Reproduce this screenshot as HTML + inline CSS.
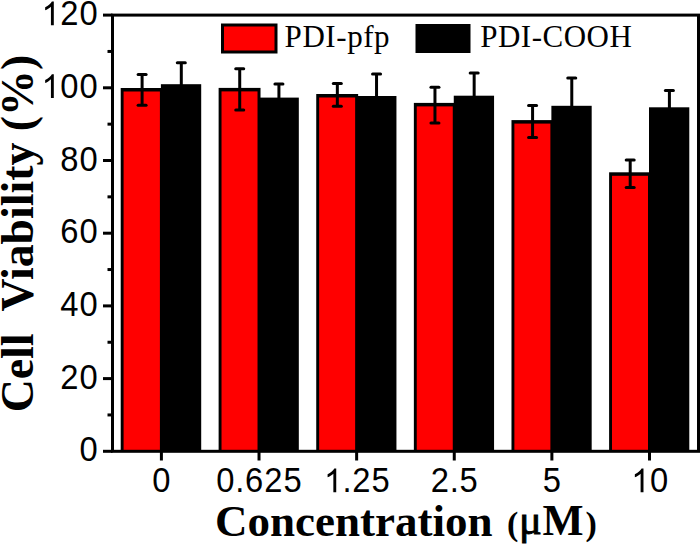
<!DOCTYPE html>
<html><head><meta charset="utf-8"><style>
html,body{margin:0;padding:0;background:#fff;}
svg{display:block;}
text,path{fill:#000;}
.s{font-family:"Liberation Sans",sans-serif;}
.r{font-family:"Liberation Serif",serif;}
</style></head><body>
<svg width="700" height="545" viewBox="0 0 700 545">
<rect width="700" height="545" fill="#fff"/>
<rect x="120.70" y="88.00" width="42.20" height="363.30" fill="#000"/>
<rect x="123.60" y="91.50" width="36.30" height="359.80" fill="#f00"/>
<rect x="160.90" y="84.20" width="40.3" height="367.10" fill="#000"/>
<rect x="218.62" y="87.90" width="41.90" height="363.40" fill="#000"/>
<rect x="221.52" y="91.40" width="36.00" height="359.90" fill="#f00"/>
<rect x="258.52" y="97.60" width="40.3" height="353.70" fill="#000"/>
<rect x="316.24" y="94.00" width="41.90" height="357.30" fill="#000"/>
<rect x="319.14" y="97.50" width="36.00" height="353.80" fill="#f00"/>
<rect x="356.14" y="96.00" width="40.3" height="355.30" fill="#000"/>
<rect x="413.86" y="102.90" width="41.90" height="348.40" fill="#000"/>
<rect x="416.76" y="106.40" width="36.00" height="344.90" fill="#f00"/>
<rect x="453.76" y="95.70" width="40.3" height="355.60" fill="#000"/>
<rect x="511.48" y="120.10" width="41.90" height="331.20" fill="#000"/>
<rect x="514.38" y="123.60" width="36.00" height="327.70" fill="#f00"/>
<rect x="551.38" y="105.80" width="40.3" height="345.50" fill="#000"/>
<rect x="609.10" y="172.30" width="41.90" height="279.00" fill="#000"/>
<rect x="612.00" y="175.80" width="36.00" height="275.50" fill="#f00"/>
<rect x="649.00" y="107.30" width="40.3" height="344.00" fill="#000"/>
<line x1="142.10" y1="74.60" x2="142.10" y2="105.20" stroke="#000" stroke-width="3"/>
<line x1="138.10" y1="74.60" x2="146.10" y2="74.60" stroke="#000" stroke-width="3" stroke-linecap="round"/>
<line x1="138.10" y1="105.20" x2="146.10" y2="105.20" stroke="#000" stroke-width="3" stroke-linecap="round"/>
<line x1="181.30" y1="62.80" x2="181.30" y2="108.60" stroke="#000" stroke-width="3"/>
<line x1="177.30" y1="62.80" x2="185.30" y2="62.80" stroke="#000" stroke-width="3" stroke-linecap="round"/>
<line x1="177.30" y1="108.60" x2="185.30" y2="108.60" stroke="#000" stroke-width="3" stroke-linecap="round"/>
<line x1="239.72" y1="68.80" x2="239.72" y2="110.00" stroke="#000" stroke-width="3"/>
<line x1="235.72" y1="68.80" x2="243.72" y2="68.80" stroke="#000" stroke-width="3" stroke-linecap="round"/>
<line x1="235.72" y1="110.00" x2="243.72" y2="110.00" stroke="#000" stroke-width="3" stroke-linecap="round"/>
<line x1="278.92" y1="83.90" x2="278.92" y2="114.30" stroke="#000" stroke-width="3"/>
<line x1="274.92" y1="83.90" x2="282.92" y2="83.90" stroke="#000" stroke-width="3" stroke-linecap="round"/>
<line x1="274.92" y1="114.30" x2="282.92" y2="114.30" stroke="#000" stroke-width="3" stroke-linecap="round"/>
<line x1="337.34" y1="83.60" x2="337.34" y2="106.20" stroke="#000" stroke-width="3"/>
<line x1="333.34" y1="83.60" x2="341.34" y2="83.60" stroke="#000" stroke-width="3" stroke-linecap="round"/>
<line x1="333.34" y1="106.20" x2="341.34" y2="106.20" stroke="#000" stroke-width="3" stroke-linecap="round"/>
<line x1="376.54" y1="74.10" x2="376.54" y2="120.90" stroke="#000" stroke-width="3"/>
<line x1="372.54" y1="74.10" x2="380.54" y2="74.10" stroke="#000" stroke-width="3" stroke-linecap="round"/>
<line x1="372.54" y1="120.90" x2="380.54" y2="120.90" stroke="#000" stroke-width="3" stroke-linecap="round"/>
<line x1="434.96" y1="87.20" x2="434.96" y2="122.90" stroke="#000" stroke-width="3"/>
<line x1="430.96" y1="87.20" x2="438.96" y2="87.20" stroke="#000" stroke-width="3" stroke-linecap="round"/>
<line x1="430.96" y1="122.90" x2="438.96" y2="122.90" stroke="#000" stroke-width="3" stroke-linecap="round"/>
<line x1="474.16" y1="72.90" x2="474.16" y2="121.50" stroke="#000" stroke-width="3"/>
<line x1="470.16" y1="72.90" x2="478.16" y2="72.90" stroke="#000" stroke-width="3" stroke-linecap="round"/>
<line x1="470.16" y1="121.50" x2="478.16" y2="121.50" stroke="#000" stroke-width="3" stroke-linecap="round"/>
<line x1="532.58" y1="105.40" x2="532.58" y2="137.50" stroke="#000" stroke-width="3"/>
<line x1="528.58" y1="105.40" x2="536.58" y2="105.40" stroke="#000" stroke-width="3" stroke-linecap="round"/>
<line x1="528.58" y1="137.50" x2="536.58" y2="137.50" stroke="#000" stroke-width="3" stroke-linecap="round"/>
<line x1="571.78" y1="78.10" x2="571.78" y2="136.50" stroke="#000" stroke-width="3"/>
<line x1="567.78" y1="78.10" x2="575.78" y2="78.10" stroke="#000" stroke-width="3" stroke-linecap="round"/>
<line x1="567.78" y1="136.50" x2="575.78" y2="136.50" stroke="#000" stroke-width="3" stroke-linecap="round"/>
<line x1="630.20" y1="160.10" x2="630.20" y2="187.40" stroke="#000" stroke-width="3"/>
<line x1="626.20" y1="160.10" x2="634.20" y2="160.10" stroke="#000" stroke-width="3" stroke-linecap="round"/>
<line x1="626.20" y1="187.40" x2="634.20" y2="187.40" stroke="#000" stroke-width="3" stroke-linecap="round"/>
<line x1="669.40" y1="90.60" x2="669.40" y2="127.00" stroke="#000" stroke-width="3"/>
<line x1="665.40" y1="90.60" x2="673.40" y2="90.60" stroke="#000" stroke-width="3" stroke-linecap="round"/>
<line x1="665.40" y1="127.00" x2="673.40" y2="127.00" stroke="#000" stroke-width="3" stroke-linecap="round"/>
<rect x="112.5" y="15.1" width="586.0" height="436.2" fill="none" stroke="#000" stroke-width="3"/>
<line x1="103" y1="451.30" x2="112.5" y2="451.30" stroke="#000" stroke-width="3"/>
<line x1="107.5" y1="414.95" x2="112.5" y2="414.95" stroke="#000" stroke-width="3"/>
<line x1="103" y1="378.60" x2="112.5" y2="378.60" stroke="#000" stroke-width="3"/>
<line x1="107.5" y1="342.25" x2="112.5" y2="342.25" stroke="#000" stroke-width="3"/>
<line x1="103" y1="305.90" x2="112.5" y2="305.90" stroke="#000" stroke-width="3"/>
<line x1="107.5" y1="269.55" x2="112.5" y2="269.55" stroke="#000" stroke-width="3"/>
<line x1="103" y1="233.20" x2="112.5" y2="233.20" stroke="#000" stroke-width="3"/>
<line x1="107.5" y1="196.85" x2="112.5" y2="196.85" stroke="#000" stroke-width="3"/>
<line x1="103" y1="160.50" x2="112.5" y2="160.50" stroke="#000" stroke-width="3"/>
<line x1="107.5" y1="124.15" x2="112.5" y2="124.15" stroke="#000" stroke-width="3"/>
<line x1="103" y1="87.80" x2="112.5" y2="87.80" stroke="#000" stroke-width="3"/>
<line x1="107.5" y1="51.45" x2="112.5" y2="51.45" stroke="#000" stroke-width="3"/>
<line x1="103" y1="15.10" x2="112.5" y2="15.10" stroke="#000" stroke-width="3"/>
<line x1="161.40" y1="451.3" x2="161.40" y2="460.5" stroke="#000" stroke-width="3"/>
<line x1="259.02" y1="451.3" x2="259.02" y2="460.5" stroke="#000" stroke-width="3"/>
<line x1="356.64" y1="451.3" x2="356.64" y2="460.5" stroke="#000" stroke-width="3"/>
<line x1="454.26" y1="451.3" x2="454.26" y2="460.5" stroke="#000" stroke-width="3"/>
<line x1="551.88" y1="451.3" x2="551.88" y2="460.5" stroke="#000" stroke-width="3"/>
<line x1="649.50" y1="451.3" x2="649.50" y2="460.5" stroke="#000" stroke-width="3"/>
<text transform="translate(88.61,461.40) scale(0.95,1)" text-anchor="middle" class="s" font-size="34.5">0</text>
<text transform="translate(69.42,388.70) scale(0.95,1)" text-anchor="middle" class="s" font-size="34.5">2</text>
<text transform="translate(88.61,388.70) scale(0.95,1)" text-anchor="middle" class="s" font-size="34.5">0</text>
<text transform="translate(69.42,316.00) scale(0.95,1)" text-anchor="middle" class="s" font-size="34.5">4</text>
<text transform="translate(88.61,316.00) scale(0.95,1)" text-anchor="middle" class="s" font-size="34.5">0</text>
<text transform="translate(69.42,243.30) scale(0.95,1)" text-anchor="middle" class="s" font-size="34.5">6</text>
<text transform="translate(88.61,243.30) scale(0.95,1)" text-anchor="middle" class="s" font-size="34.5">0</text>
<text transform="translate(69.42,170.60) scale(0.95,1)" text-anchor="middle" class="s" font-size="34.5">8</text>
<text transform="translate(88.61,170.60) scale(0.95,1)" text-anchor="middle" class="s" font-size="34.5">0</text>
<path transform="translate(50.23,97.90) scale(0.01600,-0.01685) translate(-539.5,0)" d="M763,0 L583,0 L583,1100 C540,1059 483,1017 413,976 C343,935 280,904 223,884 L223,1058 C322,1104 409,1160 484,1226 C559,1292 612,1350 643,1409 L763,1409 Z"/>
<text transform="translate(69.42,97.90) scale(0.95,1)" text-anchor="middle" class="s" font-size="34.5">0</text>
<text transform="translate(88.61,97.90) scale(0.95,1)" text-anchor="middle" class="s" font-size="34.5">0</text>
<path transform="translate(50.23,25.20) scale(0.01600,-0.01685) translate(-539.5,0)" d="M763,0 L583,0 L583,1100 C540,1059 483,1017 413,976 C343,935 280,904 223,884 L223,1058 C322,1104 409,1160 484,1226 C559,1292 612,1350 643,1409 L763,1409 Z"/>
<text transform="translate(69.42,25.20) scale(0.95,1)" text-anchor="middle" class="s" font-size="34.5">2</text>
<text transform="translate(88.61,25.20) scale(0.95,1)" text-anchor="middle" class="s" font-size="34.5">0</text>
<text transform="translate(161.40,492.20) scale(0.95,1)" text-anchor="middle" class="s" font-size="34.5">0</text>
<text transform="translate(225.45,492.20) scale(0.95,1)" text-anchor="middle" class="s" font-size="34.5">0</text>
<text transform="translate(239.83,492.20) scale(0.95,1)" text-anchor="middle" class="s" font-size="34.5">.</text>
<text transform="translate(254.22,492.20) scale(0.95,1)" text-anchor="middle" class="s" font-size="34.5">6</text>
<text transform="translate(273.41,492.20) scale(0.95,1)" text-anchor="middle" class="s" font-size="34.5">2</text>
<text transform="translate(292.59,492.20) scale(0.95,1)" text-anchor="middle" class="s" font-size="34.5">5</text>
<path transform="translate(332.66,492.20) scale(0.01600,-0.01685) translate(-539.5,0)" d="M763,0 L583,0 L583,1100 C540,1059 483,1017 413,976 C343,935 280,904 223,884 L223,1058 C322,1104 409,1160 484,1226 C559,1292 612,1350 643,1409 L763,1409 Z"/>
<text transform="translate(347.05,492.20) scale(0.95,1)" text-anchor="middle" class="s" font-size="34.5">.</text>
<text transform="translate(361.43,492.20) scale(0.95,1)" text-anchor="middle" class="s" font-size="34.5">2</text>
<text transform="translate(380.62,492.20) scale(0.95,1)" text-anchor="middle" class="s" font-size="34.5">5</text>
<text transform="translate(439.87,492.20) scale(0.95,1)" text-anchor="middle" class="s" font-size="34.5">2</text>
<text transform="translate(454.26,492.20) scale(0.95,1)" text-anchor="middle" class="s" font-size="34.5">.</text>
<text transform="translate(468.65,492.20) scale(0.95,1)" text-anchor="middle" class="s" font-size="34.5">5</text>
<text transform="translate(551.88,492.20) scale(0.95,1)" text-anchor="middle" class="s" font-size="34.5">5</text>
<path transform="translate(639.91,492.20) scale(0.01600,-0.01685) translate(-539.5,0)" d="M763,0 L583,0 L583,1100 C540,1059 483,1017 413,976 C343,935 280,904 223,884 L223,1058 C322,1104 409,1160 484,1226 C559,1292 612,1350 643,1409 L763,1409 Z"/>
<text transform="translate(659.09,492.20) scale(0.95,1)" text-anchor="middle" class="s" font-size="34.5">0</text>
<rect x="222.5" y="25" width="53.5" height="27" fill="#f00" stroke="#000" stroke-width="3"/>
<text x="284.6" y="46.8" class="r" font-size="31" textLength="105.0" lengthAdjust="spacing">PDI-pfp</text>
<rect x="415.5" y="24" width="55" height="29" fill="#000"/>
<text x="480.2" y="46.8" class="r" font-size="31" textLength="151.6" lengthAdjust="spacing">PDI-COOH</text>
<text x="215" y="536" class="r" font-weight="bold" font-size="45">Concentration</text>
<text x="507" y="535" class="r" font-weight="bold" font-size="34">(</text>
<text x="519" y="534.3" class="r" font-weight="normal" stroke="#000" stroke-width="0.9" font-size="42.5">μ</text>
<text x="542.6" y="535" class="r" font-weight="bold" font-size="43.5">M</text>
<text x="585.5" y="535" class="r" font-weight="bold" font-size="34">)</text>
<text transform="translate(33,412.3) rotate(-90)" class="r" font-weight="bold" font-size="45.8" xml:space="preserve" style="white-space:pre">Cell  Viability (%)</text>
</svg>
</body></html>
